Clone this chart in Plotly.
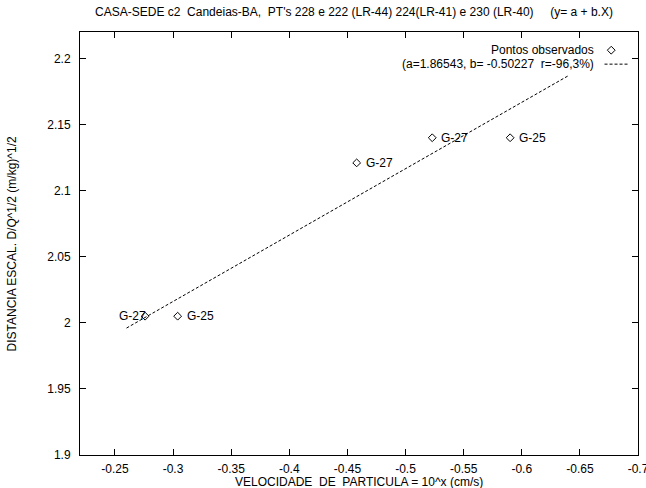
import plotly.graph_objects as go

# Observed points
vel = [-0.276, -0.304, -0.458, -0.523, -0.590]
dist = [2.005, 2.005, 2.121, 2.140, 2.140]
labels = ["G-27", "G-25", "G-27", "G-27", "G-25"]
label_side = ["left", "right", "right", "right", "right"]

# Fit y = a + b.x
a = 1.86543
b = -0.50227
fit_x = [-0.26, -0.64]
fit_y = [a + b * x for x in fit_x]

xtick_vals = [-0.25, -0.3, -0.35, -0.4, -0.45, -0.5, -0.55, -0.6, -0.65, -0.7]
xtick_text = ["-0.25", "-0.3", "-0.35", "-0.4", "-0.45", "-0.5", "-0.55", "-0.6", "-0.65", "-0.7"]
ytick_vals = [1.9, 1.95, 2.0, 2.05, 2.1, 2.15, 2.2]
ytick_text = ["1.9", "1.95", "2", "2.05", "2.1", "2.15", "2.2"]

FONT = "Liberation Sans, Arial, sans-serif"
FS = 12

fig = go.Figure()
fig.add_trace(go.Scatter(
    x=fit_x, y=fit_y, mode="lines",
    line=dict(color="black", width=1, dash="3px,2px"),
    showlegend=False, hoverinfo="skip"))
fig.add_trace(go.Scatter(
    x=vel, y=dist, mode="markers",
    marker=dict(symbol="diamond-open", size=6, color="black", line=dict(width=1, color="black")),
    showlegend=False))

for xv, yv, lab, side in zip(vel, dist, labels, label_side):
    fig.add_annotation(x=xv, y=yv, text=lab, showarrow=False,
                       xanchor="right" if side == "left" else "left",
                       xshift=3 if side == "left" else 7, yanchor="middle",
                       font=dict(family=FONT, size=FS, color="black"))

axis_common = dict(
    showline=True, linecolor="black", linewidth=1, mirror="ticks",
    ticks="inside", ticklen=6, tickcolor="black", showgrid=False, zeroline=False,
    automargin=False, ticklabeloverflow="allow",
    tickfont=dict(family=FONT, size=FS, color="black"))

fig.update_xaxes(range=[-0.22, -0.7], tickvals=xtick_vals, ticktext=xtick_text,
                 ticklabelstandoff=3, **axis_common)
fig.update_yaxes(range=[1.9, 2.22], tickvals=ytick_vals, ticktext=ytick_text,
                 ticklabelstandoff=6, **axis_common)

# Axis titles
fig.add_annotation(xref="paper", yref="paper", x=0.5, y=-0.064, xanchor="center", yanchor="middle",
                   text="VELOCIDADE  DE  PARTICULA = 10^x (cm/s)", showarrow=False,
                   font=dict(family=FONT, size=FS, color="black"))
fig.add_annotation(xref="paper", yref="paper", x=-0.122, y=0.5, xanchor="center", yanchor="middle",
                   text="DISTANCIA ESCAL. D/Q^1/2 (m/kg)^1/2", showarrow=False, textangle=-90,
                   font=dict(family=FONT, size=FS, color="black"))

# Legend (gnuplot style: text right, sample at far right)
fig.add_annotation(xref="paper", yref="paper", x=0.925, y=0.957, xanchor="right", yanchor="middle",
                   text="Pontos observados", showarrow=False,
                   font=dict(family=FONT, size=FS, color="black"))
fig.add_annotation(xref="paper", yref="paper", x=0.925, y=0.924, xanchor="right", yanchor="middle",
                   text="(a=1.86543, b= -0.50227  r=-96,3%)", showarrow=False,
                   font=dict(family=FONT, size=FS, color="black"))
fig.add_trace(go.Scatter(x=[0.952], y=[0.957], xaxis="x2", yaxis="y2", mode="markers",
                         marker=dict(symbol="diamond-open", size=6, color="black"),
                         showlegend=False, hoverinfo="skip"))
fig.add_shape(type="line", xref="paper", yref="paper", x0=0.940, x1=0.984, y0=0.924, y1=0.924,
              line=dict(color="black", width=1, dash="3px,2px"))
fig.update_layout(
    xaxis2=dict(overlaying="x", range=[0, 1], visible=False),
    yaxis2=dict(overlaying="y", range=[0, 1], visible=False))

fig.update_layout(
    width=646, height=488,
    margin=dict(l=80, r=8, t=32, b=33, autoexpand=False),
    paper_bgcolor="white", plot_bgcolor="white",
    title=dict(text="CASA-SEDE c2  Candeias-BA,  PT's 228 e 222 (LR-44) 224(LR-41) e 230 (LR-40)     (y= a + b.X)",
               x=0.548, xanchor="center", y=0.975, yanchor="middle",
               font=dict(family=FONT, size=FS, color="black")),
    font=dict(family=FONT, size=FS, color="black"))

fig.write_html("out.html", config={"displayModeBar": False},
               post_script="document.body.style.margin='0';document.body.style.overflow='hidden';")
